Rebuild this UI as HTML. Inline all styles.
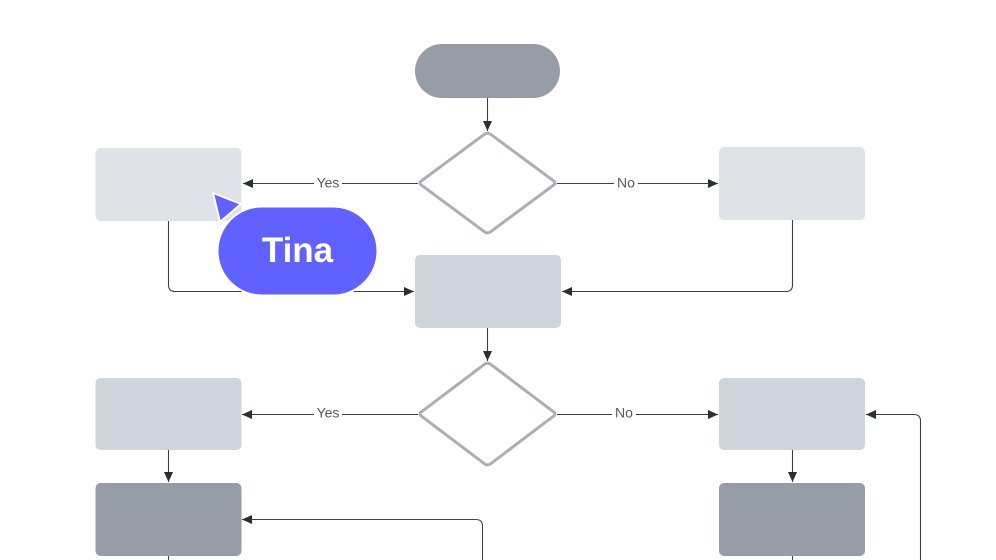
<!DOCTYPE html>
<html><head><meta charset="utf-8"><style>
html,body{margin:0;padding:0;background:#fff;}
svg{display:block;}
.lbl{font-family:"Liberation Sans",sans-serif;font-size:14px;fill:#555a61;}
</style></head><body>
<svg width="996" height="560" viewBox="0 0 996 560" xmlns="http://www.w3.org/2000/svg">
<defs>
<marker id="ah" viewBox="0 0 10 10" refX="10" refY="5" markerWidth="10" markerHeight="10" markerUnits="userSpaceOnUse" orient="auto">
<path d="M0,0.5 L10,5 L0,9.5 Z" fill="#2b2e33"/>
</marker>
</defs>
<g fill="none" stroke="#3d4046" stroke-width="1.1">
<!-- start to diamond1 -->
<path d="M487.5 98 V131" marker-end="url(#ah)"/>
<!-- diamond1 yes -->
<path d="M418 183.5 H243" marker-end="url(#ah)"/>
<!-- diamond1 no -->
<path d="M557 183.5 H718" marker-end="url(#ah)"/>
<!-- TL box to middle -->
<path d="M168.5 221 V285 Q168.5 291.5 175 291.5 H414" marker-end="url(#ah)"/>
<!-- TR box to middle -->
<path d="M792.5 220 V285 Q792.5 291.5 786 291.5 H562" marker-end="url(#ah)"/>
<!-- middle to diamond2 -->
<path d="M487.5 327 V361" marker-end="url(#ah)"/>
<!-- diamond2 yes -->
<path d="M418 414.5 H242" marker-end="url(#ah)"/>
<!-- diamond2 no -->
<path d="M557 414.5 H718" marker-end="url(#ah)"/>
<!-- ML to dark L -->
<path d="M168.5 450 V482" marker-end="url(#ah)"/>
<!-- MR to dark R -->
<path d="M792.5 450 V482" marker-end="url(#ah)"/>
<!-- into dark L from right -->
<path d="M482.5 560 V526 Q482.5 519.5 476 519.5 H242" marker-end="url(#ah)"/>
<!-- into MR from right -->
<path d="M920.5 560 V421 Q920.5 414.5 914 414.5 H866" marker-end="url(#ah)"/>
<!-- below dark boxes -->
<path d="M168.5 556 V560"/>
<path d="M792.5 556 V560"/>
</g>
<!-- labels -->
<rect x="314" y="174" width="28" height="16" fill="#fff"/>
<text class="lbl" x="328" y="187.5" text-anchor="middle">Yes</text>
<rect x="614" y="174" width="24" height="16" fill="#fff"/>
<text class="lbl" x="626" y="187.5" text-anchor="middle">No</text>
<rect x="314" y="405" width="28" height="16" fill="#fff"/>
<text class="lbl" x="328" y="417.5" text-anchor="middle">Yes</text>
<rect x="612" y="405" width="24" height="16" fill="#fff"/>
<text class="lbl" x="624" y="417.5" text-anchor="middle">No</text>

<!-- start pill -->
<rect x="415" y="44" width="145" height="54" rx="27" fill="#979da7"/>
<!-- diamonds -->
<path d="M484.5 134.2 Q487.5 132 490.5 134.2 L553.5 180.8 Q556.5 183 553.5 185.2 L490.5 231.8 Q487.5 234 484.5 231.8 L421.5 185.2 Q418.5 183 421.5 180.8 Z" fill="#fff" stroke="#a9aeb7" stroke-width="3"/>
<path d="M484.5 364.2 Q487.5 362 490.5 364.2 L553.5 411.8 Q556.5 414 553.5 416.2 L490.5 463.8 Q487.5 466 484.5 463.8 L421.5 416.2 Q418.5 414 421.5 411.8 Z" fill="#fff" stroke="#a9aeb7" stroke-width="3"/>
<!-- boxes -->
<rect x="95.5" y="148" width="146" height="73" rx="5" fill="#dfe2e7"/>
<rect x="719" y="147" width="146" height="73" rx="5" fill="#dfe2e7"/>
<rect x="415" y="255" width="146" height="73" rx="5" fill="#cfd5dd"/>
<rect x="95.5" y="378" width="146" height="72" rx="5" fill="#cfd5dd"/>
<rect x="719" y="378" width="146" height="72" rx="5" fill="#cfd5dd"/>
<rect x="95.5" y="483" width="146" height="73" rx="5" fill="#979da7"/>
<rect x="719" y="483" width="146" height="73" rx="5" fill="#979da7"/>

<!-- cursor -->
<path d="M213 193 L241 204 L220 222 Z" fill="#6161ff" stroke="#fff" stroke-width="2" stroke-linejoin="round"/>
<!-- Tina pill -->
<rect x="217.5" y="206.5" width="160" height="89" rx="44.5" fill="#6161ff" stroke="#fff" stroke-width="2"/>
<text x="297.5" y="262" text-anchor="middle" font-family="Liberation Sans, sans-serif" font-size="35" font-weight="bold" fill="#fff">Tina</text>
</svg>
</body></html>
